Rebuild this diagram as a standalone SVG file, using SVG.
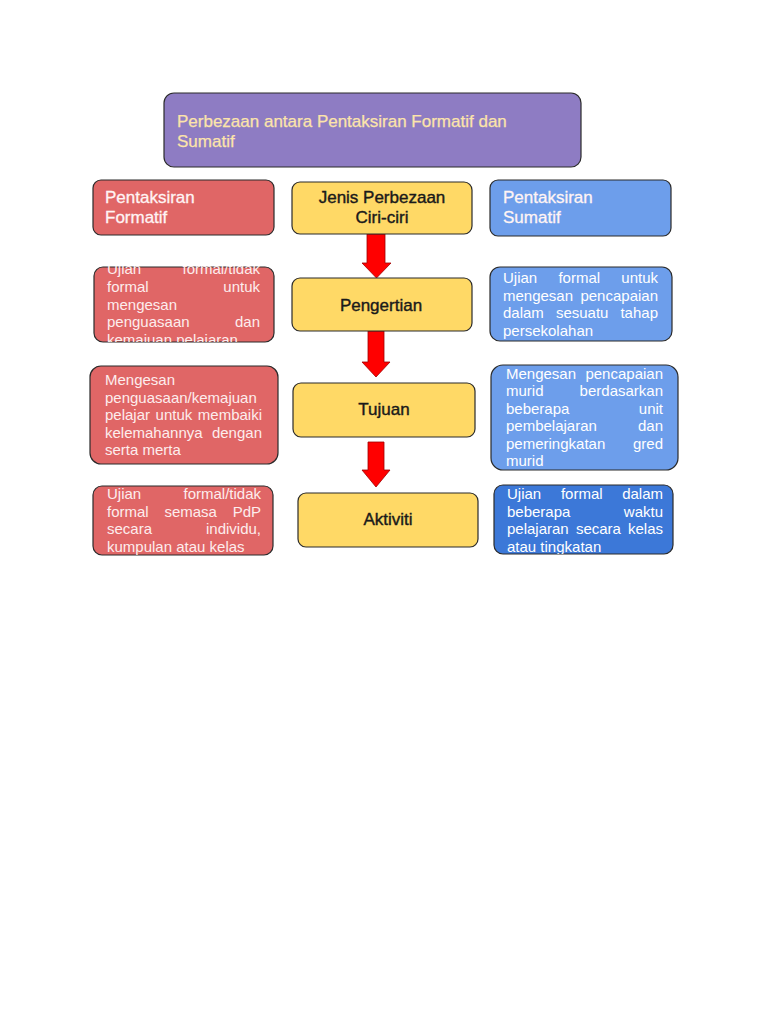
<svg xmlns="http://www.w3.org/2000/svg" width="768" height="1024" viewBox="0 0 768 1024">
<style>
.box{stroke:#2b2b2b;stroke-width:1.2}
.purple{fill:#8E7CC3}
.red{fill:#E06666}
.blue{fill:#6D9EEB}
.dblue{fill:#3C78D8}
.yellow{fill:#FFD966}
.t{font-family:"Liberation Sans",Arial,sans-serif}
.title{font-size:17px;fill:#FCE4AA;stroke:#FCE4AA;stroke-width:0.25}
.hdr{font-size:17px;fill:#FFF4F4;stroke:#FFF4F4;stroke-width:0.3}
.mid{font-size:17px;fill:#1a1a1a;text-anchor:middle;stroke:#1a1a1a;stroke-width:0.4}
.body{font-size:15px}
.rt{fill:#FDEDED}
.bt{fill:#FFFFFF}
.arrow{fill:#FF0000;stroke:#A00000;stroke-width:0.8}
.e{text-anchor:end}
</style>
<defs>
<clipPath id="c-r1"><rect x="94" y="266" width="180" height="76"/></clipPath>
<clipPath id="c-r2"><rect x="90" y="365" width="188" height="99"/></clipPath>
<clipPath id="c-r3"><rect x="93" y="486" width="180" height="69"/></clipPath>
<clipPath id="c-b1"><rect x="490" y="267" width="182" height="75"/></clipPath>
<clipPath id="c-b2"><rect x="491" y="365" width="187" height="105"/></clipPath>
<clipPath id="c-b3"><rect x="494" y="485" width="179" height="69"/></clipPath>
</defs>
<rect width="768" height="1024" fill="#ffffff"/>

<g id="connectors">
<polygon class="arrow" points="367,234 385,234 385,263 391,263 376.5,278 362,263 367,263"/>
<polygon class="arrow" points="368,331 384,331 384,362 390,362 376,377 362,362 368,362"/>
<polygon class="arrow" points="368,442 384,442 384,470 390,470 376,487 362,470 368,470"/>
</g>

<g id="title">
<rect class="box purple" x="164" y="93" width="417" height="74" rx="10"/>
<text class="t title" x="177" y="127">Perbezaan antara Pentaksiran Formatif dan</text>
<text class="t title" x="177" y="147">Sumatif</text>
</g>

<g id="hdr-formatif">
<rect class="box red" x="93" y="180" width="181" height="55" rx="8"/>
<text class="t hdr" x="105" y="203">Pentaksiran</text>
<text class="t hdr" x="105" y="223">Formatif</text>
</g>

<g id="hdr-jenis">
<rect class="box yellow" x="292" y="182" width="180" height="52" rx="8"/>
<text class="t mid" x="382" y="203">Jenis Perbezaan</text>
<text class="t mid" x="382" y="223">Ciri-ciri</text>
</g>

<g id="hdr-sumatif">
<rect class="box blue" x="490" y="180" width="181" height="56" rx="8"/>
<text class="t hdr" x="503" y="203">Pentaksiran</text>
<text class="t hdr" x="503" y="223">Sumatif</text>
</g>

<g id="pengertian">
<rect class="box yellow" x="292" y="278" width="180" height="53" rx="8"/>
<text class="t mid" x="381" y="311">Pengertian</text>
</g>

<g id="tujuan">
<rect class="box yellow" x="293" y="383" width="182" height="54" rx="8"/>
<text class="t mid" x="384" y="415">Tujuan</text>
</g>

<g id="aktiviti">
<rect class="box yellow" x="298" y="493" width="180" height="54" rx="8"/>
<text class="t mid" x="388" y="525">Aktiviti</text>
</g>

<g id="formatif-pengertian">
<rect class="box red" x="94" y="267" width="180" height="75" rx="9"/>
<g clip-path="url(#c-r1)" class="t body rt">
<text y="274"><tspan x="107">Ujian</tspan><tspan x="260" class="e">formal/tidak</tspan></text>
<text y="292"><tspan x="107">formal</tspan><tspan x="260" class="e">untuk</tspan></text>
<text x="107" y="309.5">mengesan</text>
<text y="327"><tspan x="107">penguasaan</tspan><tspan x="260" class="e">dan</tspan></text>
<text x="107" y="344.5">kemajuan pelajaran</text>
</g>
</g>

<g id="formatif-tujuan">
<rect class="box red" x="90" y="366" width="188" height="98" rx="11"/>
<g clip-path="url(#c-r2)" class="t body rt">
<text x="105" y="385">Mengesan</text>
<text x="105" y="402.5">penguasaan/kemajuan</text>
<text y="420"><tspan x="105">pelajar</tspan><tspan x="155.6">untuk</tspan><tspan x="262" class="e">membaiki</tspan></text>
<text y="437.5"><tspan x="105">kelemahannya</tspan><tspan x="262" class="e">dengan</tspan></text>
<text x="105" y="455">serta merta</text>
</g>
</g>

<g id="formatif-aktiviti">
<rect class="box red" x="93" y="486" width="180" height="69" rx="9"/>
<g clip-path="url(#c-r3)" class="t body rt">
<text y="498.5"><tspan x="107">Ujian</tspan><tspan x="261" class="e">formal/tidak</tspan></text>
<text y="516.5"><tspan x="107">formal</tspan><tspan x="164.4">semasa</tspan><tspan x="261" class="e">PdP</tspan></text>
<text y="534"><tspan x="107">secara</tspan><tspan x="261" class="e">individu,</tspan></text>
<text x="107" y="552">kumpulan atau kelas</text>
</g>
</g>

<g id="sumatif-pengertian">
<rect class="box blue" x="490" y="267" width="182" height="74" rx="10"/>
<g clip-path="url(#c-b1)" class="t body bt">
<text y="283"><tspan x="503">Ujian</tspan><tspan x="558.4">formal</tspan><tspan x="658" class="e">untuk</tspan></text>
<text y="300.5"><tspan x="503">mengesan</tspan><tspan x="658" class="e">pencapaian</tspan></text>
<text y="318"><tspan x="503">dalam</tspan><tspan x="555.9">sesuatu</tspan><tspan x="658" class="e">tahap</tspan></text>
<text x="503" y="336">persekolahan</text>
</g>
</g>

<g id="sumatif-tujuan">
<rect class="box blue" x="491" y="365" width="187" height="105" rx="12"/>
<g clip-path="url(#c-b2)" class="t body bt">
<text y="378.5"><tspan x="506">Mengesan</tspan><tspan x="663" class="e">pencapaian</tspan></text>
<text y="396"><tspan x="506">murid</tspan><tspan x="663" class="e">berdasarkan</tspan></text>
<text y="413.5"><tspan x="506">beberapa</tspan><tspan x="663" class="e">unit</tspan></text>
<text y="431"><tspan x="506">pembelajaran</tspan><tspan x="663" class="e">dan</tspan></text>
<text y="448.5"><tspan x="506">pemeringkatan</tspan><tspan x="663" class="e">gred</tspan></text>
<text x="506" y="466">murid</text>
</g>
</g>

<g id="sumatif-aktiviti">
<rect class="box dblue" x="494" y="485" width="179" height="69" rx="9"/>
<g clip-path="url(#c-b3)" class="t body bt">
<text y="499"><tspan x="507">Ujian</tspan><tspan x="560.9">formal</tspan><tspan x="663" class="e">dalam</tspan></text>
<text y="516.5"><tspan x="507">beberapa</tspan><tspan x="663" class="e">waktu</tspan></text>
<text y="534"><tspan x="507">pelajaran</tspan><tspan x="575.9">secara</tspan><tspan x="663" class="e">kelas</tspan></text>
<text x="507" y="551.5">atau tingkatan</text>
</g>
</g>
</svg>
